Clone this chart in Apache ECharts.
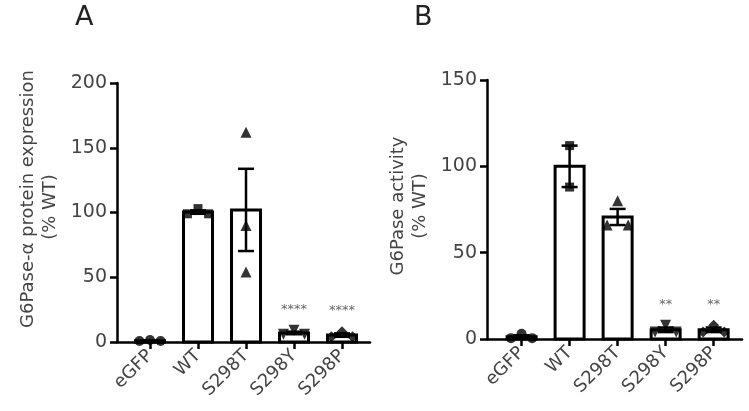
<!DOCTYPE html>
<html><head><meta charset="utf-8">
<script src="https://cdn.jsdelivr.net/npm/echarts@6/dist/echarts.min.js"></script>
<style>html,body{margin:0;padding:0;background:#fff}#c{width:749px;height:411px}</style>
</head><body><div id="c"></div>
<script>
// ---- data ----
const categories = ['eGFP', 'WT', 'S298T', 'S298Y', 'S298P'];
const symbolsByCategory = ['circle', 'rect', 'triangle', 'path://M0,0 L10,0 L5,9 Z', 'diamond'];

// Panel A: G6Pase-α protein expression (% WT)
const A_eGFP = [0.8, 1.5, 0.8];
const A_WT = [99, 103, 99];
const A_S298T = [162, 90, 54];
const A_S298Y = [6, 9, 6];
const A_S298P = [4, 8, 4];
const A_sig = ['', '', '', '****', '****'];
const A_yTicks = [0, 50, 100, 150, 200];
const A_yTitle = ['G6Pase-α protein expression', '(% WT)'];

// Panel B: G6Pase activity (% WT)
const B_eGFP = [0.5, 3, 0.5];
const B_WT = [112, 88];
const B_S298T = [80, 66, 66];
const B_S298Y = [4, 8, 4];
const B_S298P = [4, 8, 4];
const B_sig = ['', '', '', '**', '**'];
const B_yTicks = [0, 50, 100, 150];
const B_yTitle = ['G6Pase activity', '(% WT)'];

const A_groups = [A_eGFP, A_WT, A_S298T, A_S298Y, A_S298P];
const B_groups = [B_eGFP, B_WT, B_S298T, B_S298Y, B_S298P];

// ---- helpers ----
function mean(a) { return a.reduce((s, v) => s + v, 0) / a.length; }
function sem(a) {
  if (a.length < 2) return 0;
  const m = mean(a);
  const v = a.reduce((s, x) => s + (x - m) * (x - m), 0) / (a.length - 1);
  return Math.sqrt(v / a.length);
}
// spread points that overlap (in value units) horizontally
function jitter(vals, thresh, spread) {
  const offs = vals.map(() => 0);
  const used = vals.map(() => false);
  for (let i = 0; i < vals.length; i++) {
    if (used[i]) continue;
    const cluster = [i];
    used[i] = true;
    for (let j = i + 1; j < vals.length; j++) {
      if (!used[j] && Math.abs(vals[j] - vals[i]) <= thresh) { cluster.push(j); used[j] = true; }
    }
    if (cluster.length > 1) {
      cluster.forEach((idx, k) => { offs[idx] = -spread + 2 * spread * k / (cluster.length - 1); });
    }
  }
  return offs;
}

const FONT = "'DejaVu Sans'";
const TXT = '#444';

function buildPanel(groups, sig, gi, thresh) {
  const summary = groups.map((g, i) => [i, mean(g), sem(g), Math.max(...g)]);
  const series = [];
  series.push({
    type: 'custom', xAxisIndex: gi, yAxisIndex: gi, z: 2,
    data: summary,
    renderItem: function (params, api) {
      const i = api.value(0), m = api.value(1);
      const p0 = api.coord([i, 0]), p1 = api.coord([i, m]);
      const w = 29;
      return { type: 'rect', shape: { x: p0[0] - w / 2, y: p1[1], width: w, height: p0[1] - p1[1] },
        style: { fill: '#fff', stroke: '#000', lineWidth: 3 } };
    }
  });
  series.push({
    type: 'custom', xAxisIndex: gi, yAxisIndex: gi, z: 4,
    data: summary,
    renderItem: function (params, api) {
      const i = api.value(0), m = api.value(1), s = api.value(2);
      if (s <= 0) return null;
      const top = api.coord([i, m + s]), bot = api.coord([i, m - s]);
      const cw = 8;
      const st = { stroke: '#000', lineWidth: 2.5 };
      return { type: 'group', children: [
        { type: 'line', shape: { x1: top[0], y1: top[1], x2: bot[0], y2: bot[1] }, style: st },
        { type: 'line', shape: { x1: top[0] - cw, y1: top[1], x2: top[0] + cw, y2: top[1] }, style: st },
        { type: 'line', shape: { x1: bot[0] - cw, y1: bot[1], x2: bot[0] + cw, y2: bot[1] }, style: st }
      ] };
    }
  });
  groups.forEach((g, i) => {
    const offs = jitter(g, thresh, 0.22);
    series.push({
      type: 'scatter', xAxisIndex: gi, yAxisIndex: gi, z: 5,
      symbol: symbolsByCategory[i],
      symbolSize: i === 0 ? 10 : (i === 1 ? 9 : 11),
      itemStyle: { color: '#000' },
      data: g.map((v, k) => [i + offs[k], v]),
      silent: true
    });
  });
  series.push({
    type: 'custom', xAxisIndex: gi, yAxisIndex: gi, z: 6,
    data: summary.map((s, i) => [i, s[3]]),
    renderItem: function (params, api) {
      const i = api.value(0), mx = api.value(1);
      const label = sig[i];
      if (!label) return null;
      const p = api.coord([i, mx]);
      return { type: 'text', style: { text: label, x: p[0], y: p[1] - 21, align: 'center', verticalAlign: 'middle',
        fill: '#666', font: '13px ' + FONT } };
    }
  });
  return series;
}

const axisLineStyle = { color: '#000', width: 2.5 };
function xAxis(gi, min, max) {
  return {
    type: 'value', gridIndex: gi, min: min, max: max,
    splitLine: { show: false },
    axisLine: { show: true, onZero: false, lineStyle: axisLineStyle },
    axisTick: { show: true, length: 7, lineStyle: axisLineStyle, customValues: [0, 1, 2, 3, 4] },
    axisLabel: { customValues: [0, 1, 2, 3, 4], formatter: v => categories[Math.round(v)],
      rotate: 45, margin: 11, fontFamily: FONT, fontSize: 18, color: TXT }
  };
}
function yAxis(gi, ticks) {
  return {
    type: 'value', gridIndex: gi, min: 0, max: ticks[ticks.length - 1], interval: ticks[1] - ticks[0],
    splitLine: { show: false },
    axisLine: { show: true, onZero: false, lineStyle: axisLineStyle },
    axisTick: { show: true, length: 7, lineStyle: axisLineStyle },
    axisLabel: { margin: 10, fontFamily: FONT, fontSize: 19, color: TXT }
  };
}
function yTitle(lines, x1, y1, x2, y2) {
  const mk = (t, x, y) => ({ type: 'text', x: x, y: y, rotation: Math.PI / 2,
    style: { text: t, align: 'center', verticalAlign: 'middle', fill: TXT, font: '18px ' + FONT } });
  return [mk(lines[0], x1, y1), mk(lines[1], x2, y2)];
}

const chart = echarts.init(document.getElementById('c'), null, { renderer: 'canvas' });
chart.setOption({
  animation: false,
  backgroundColor: '#fff',
  title: [
    { text: 'A', left: 70, top: -1, textStyle: { fontFamily: FONT, fontSize: 27, fontWeight: 'normal', color: '#222' } },
    { text: 'B', left: 409, top: -1, textStyle: { fontFamily: FONT, fontSize: 27, fontWeight: 'normal', color: '#222' } }
  ],
  grid: [
    { left: 117, top: 83, width: 253, height: 259, outerBoundsMode: 'none', containLabel: false },
    { left: 487, top: 80, width: 255, height: 259, outerBoundsMode: 'none', containLabel: false }
  ],
  xAxis: [xAxis(0, -0.6875, 4.583), xAxis(1, -0.72, 4.59)],
  yAxis: [yAxis(0, A_yTicks), yAxis(1, B_yTicks)],
  graphic: [].concat(
    yTitle(A_yTitle, 28, 199, 50, 207),
    yTitle(B_yTitle, 398, 206, 420, 206)
  ),
  series: [].concat(
    buildPanel(A_groups, A_sig, 0, 8),
    buildPanel(B_groups, B_sig, 1, 6)
  )
});
</script>
</body></html>
